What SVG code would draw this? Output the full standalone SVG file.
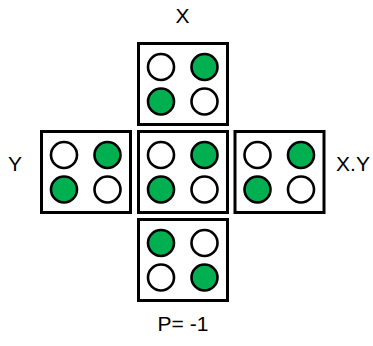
<svg xmlns="http://www.w3.org/2000/svg" width="373" height="346" viewBox="0 0 373 346">
  <defs>
    <style>
      .box { fill: #ffffff; stroke: #000000; stroke-width: 3; }
      .off { fill: #ffffff; stroke: #000000; stroke-width: 2.6; }
      .on { fill: #00b050; stroke: #000000; stroke-width: 2.6; }
      .label { font-family: "Liberation Sans", Arial, sans-serif; font-size: 21px; fill: #000000; }
    </style>
    <!-- 2x2 cell patterns, origin at box top-left -->
    <g id="diag">
      <rect class="box" x="0" y="0" width="89" height="81"/>
      <circle class="off" cx="22.5" cy="23.5" r="13"/>
      <circle class="on" cx="66" cy="23.5" r="13"/>
      <circle class="on" cx="22.5" cy="58" r="13"/>
      <circle class="off" cx="66" cy="58" r="13"/>
    </g>
    <g id="anti">
      <rect class="box" x="0" y="0" width="89" height="81"/>
      <circle class="on" cx="22.5" cy="23.5" r="13"/>
      <circle class="off" cx="66" cy="23.5" r="13"/>
      <circle class="off" cx="22.5" cy="58" r="13"/>
      <circle class="on" cx="66" cy="58" r="13"/>
    </g>
  </defs>

  <g id="top">
    <use href="#diag" x="138.5" y="43.5"/>
  </g>
  <g id="left">
    <use href="#diag" x="41.5" y="131.5"/>
  </g>
  <g id="center">
    <use href="#diag" x="138.5" y="131.5"/>
  </g>
  <g id="right">
    <use href="#diag" x="235" y="131.5"/>
  </g>
  <g id="bottom">
    <use href="#anti" x="138.5" y="219.5"/>
  </g>

  <g id="labels">
    <text class="label" x="182.5" y="23" text-anchor="middle">X</text>
    <text class="label" x="15" y="171" text-anchor="middle">Y</text>
    <text class="label" x="353" y="171" text-anchor="middle">X.Y</text>
    <text class="label" x="183" y="331" text-anchor="middle">P= -1</text>
  </g>
</svg>
